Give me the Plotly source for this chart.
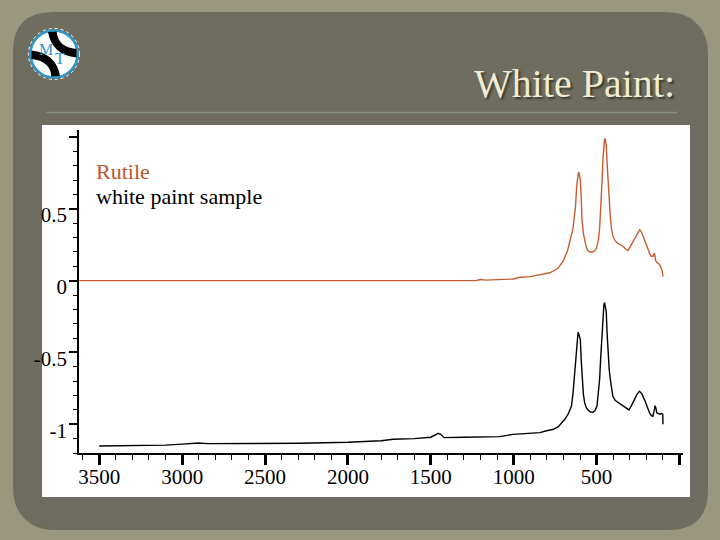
import plotly.graph_objects as go

# ---------------- data ----------------
wn_rutile = [3620, 1880, 1840, 1800, 1230, 1200, 1170, 1000, 963, 900, 842, 782, 733, 700, 675,
             655, 643, 635, 627, 620, 615, 609, 604, 598, 592, 588, 580, 572, 562, 554, 540,
             524, 510, 500, 490, 482, 477, 472, 467, 462, 456, 452, 447, 442, 437, 432, 425,
             417, 410, 402, 390, 372, 355, 341, 325, 311, 296, 281, 266, 251, 240, 230, 220,
             211, 200, 191, 180, 171, 160, 153, 149, 144, 135, 126, 115, 105, 100]
abs_rutile = [0.0, 0.0, 0.004, 0.0, 0.0, 0.008, 0.004, 0.012, 0.024, 0.028, 0.04, 0.055, 0.086, 0.14, 0.21,
              0.30, 0.36, 0.44, 0.52, 0.66, 0.73, 0.757, 0.74, 0.70, 0.55, 0.42, 0.33, 0.28, 0.23, 0.21, 0.20,
              0.20, 0.21, 0.23, 0.28, 0.36, 0.45, 0.56, 0.70, 0.84, 0.95, 0.99, 0.98, 0.94, 0.82, 0.70, 0.55,
              0.44, 0.36, 0.31, 0.28, 0.26, 0.25, 0.24, 0.22, 0.21, 0.24, 0.27, 0.31, 0.34, 0.355, 0.34, 0.31,
              0.28, 0.24, 0.21, 0.19, 0.17, 0.17, 0.19, 0.18, 0.14, 0.125, 0.12, 0.10, 0.07, 0.03]

wn_sample = [3500, 3300, 3100, 3000, 2900, 2850, 2600, 2289, 2000, 1800, 1727, 1600, 1500, 1470, 1455,
             1440, 1420, 1300, 1200, 1083, 1005, 900, 842, 802, 780, 760, 731, 710, 693, 672,
             652, 642, 632, 625, 618, 612, 608, 598, 593, 588, 580, 572, 562, 552, 537, 522,
             510, 498, 490, 482, 476, 470, 462, 456, 452, 447, 442, 437, 432, 424, 417, 410,
             402, 387, 372, 355, 341, 320, 305, 290, 271, 256, 241, 226, 211, 196, 181, 170,
             161, 152, 147, 142, 137, 128, 120, 110, 104, 101, 100]
abs_sample = [-1.151, -1.148, -1.145, -1.138, -1.13, -1.135, -1.135, -1.132, -1.125, -1.115, -1.104, -1.1, -1.09, -1.075, -1.063,
              -1.07, -1.093, -1.09, -1.09, -1.086, -1.07, -1.063, -1.058, -1.045, -1.04, -1.035, -1.017, -0.99, -0.967, -0.93,
              -0.875, -0.78, -0.64, -0.52, -0.41, -0.36, -0.37, -0.41, -0.55, -0.69, -0.79, -0.851, -0.885, -0.90, -0.915, -0.917,
              -0.905, -0.875, -0.80, -0.69, -0.55, -0.41, -0.227, -0.165, -0.153, -0.18, -0.215, -0.36, -0.504, -0.62, -0.69, -0.76,
              -0.805, -0.835, -0.847, -0.86, -0.87, -0.885, -0.90, -0.87, -0.83, -0.79, -0.77, -0.79, -0.83, -0.88, -0.92, -0.94,
              -0.944, -0.90, -0.87, -0.89, -0.92, -0.925, -0.93, -0.925, -0.93, -0.93, -1.0]

x_tickvals = [3500, 3000, 2500, 2000, 1500, 1000, 500, 0]
x_ticktext = ["3500", "3000", "2500", "2000", "1500", "1000", "500", ""]
y_tickvals = [-1, -0.5, 0, 0.5, 1]
y_ticktext = ["-1", "-0.5", "0", "0.5", ""]

title_text = "White Paint:"
label1 = "Rutile"
label2 = "white paint sample"

# ---------------- layout geometry ----------------
W, H = 720, 540
L, R, T, B = 79, 37, 130, 87
PW, PH = W - L - R, H - T - B

def px(x):
    return (x - L) / PW

def py(y):
    return 1 - (y - T) / PH

def rrect(x0, y0, x1, y1, r):
    pts = [
        f"M {px(x0 + r)} {py(y0)}",
        f"L {px(x1 - r)} {py(y0)}",
        f"Q {px(x1)} {py(y0)} {px(x1)} {py(y0 + r)}",
        f"L {px(x1)} {py(y1 - r)}",
        f"Q {px(x1)} {py(y1)} {px(x1 - r)} {py(y1)}",
        f"L {px(x0 + r)} {py(y1)}",
        f"Q {px(x0)} {py(y1)} {px(x0)} {py(y1 - r)}",
        f"L {px(x0)} {py(y0 + r)}",
        f"Q {px(x0)} {py(y0)} {px(x0 + r)} {py(y0)}",
        "Z",
    ]
    return " ".join(pts)

def pth(cmds):
    out = []
    for c in cmds:
        if isinstance(c, str):
            out.append(c)
        else:
            out.append(f"{px(c[0])} {py(c[1])}")
    return " ".join(out)

SERIF = "Liberation Serif, Times New Roman, serif"
ORANGE = "#c75d2e"
LOGO_BLUE = "#2f96cb"

fig = go.Figure()
fig.add_trace(go.Scatter(x=wn_rutile, y=abs_rutile, mode="lines",
                         line=dict(color=ORANGE, width=1.4), showlegend=False))
fig.add_trace(go.Scatter(x=wn_sample, y=abs_sample, mode="lines",
                         line=dict(color="black", width=1.4), showlegend=False))

shapes = []
# shadow + panel
shapes.append(dict(type="path", xref="paper", yref="paper", layer="below",
                   path=rrect(16, 15, 708, 530, 40), fillcolor="#5c5b4e", line=dict(width=0), opacity=0.7))
shapes.append(dict(type="path", xref="paper", yref="paper", layer="below",
                   path=rrect(13, 12, 705, 527, 40), fillcolor="#6f6d5f", line=dict(width=0)))
# white chart area
shapes.append(dict(type="rect", xref="paper", yref="paper", layer="below",
                   x0=px(42), x1=px(690), y0=py(497), y1=py(125), fillcolor="white", line=dict(width=0)))
# title rule
shapes.append(dict(type="line", xref="paper", yref="paper", layer="below",
                   x0=px(46), x1=px(677), y0=py(112.5), y1=py(112.5), line=dict(color="#84917a", width=1.5)))
# logo
cx, cy, rr = 54, 54, 23.5
shapes.append(dict(type="circle", xref="paper", yref="paper", layer="below",
                   x0=px(cx - rr - 2), x1=px(cx + rr + 2), y0=py(cy + rr + 2), y1=py(cy - rr - 2),
                   fillcolor="rgba(0,0,0,0)", line=dict(color="white", width=1, dash="dot")))
shapes.append(dict(type="circle", xref="paper", yref="paper", layer="below",
                   x0=px(cx - rr), x1=px(cx + rr), y0=py(cy + rr), y1=py(cy - rr),
                   fillcolor="white", line=dict(color=LOGO_BLUE, width=2.5)))
band = [(56.7, 31.5), (57.5, 47), (76.5, 49), (76.5, 57.5), (52, 55), (48, 32)]
for pts in (band, [(2 * cx - x, 2 * cy - y) for x, y in band]):
    shapes.append(dict(type="path", xref="paper", yref="paper", layer="below",
                       path=pth(["M", pts[0], "Q", pts[1], pts[2], "L", pts[3], "Q", pts[4], pts[5], "Z"]),
                       fillcolor="black", line=dict(width=0)))

annotations = [
    dict(text=title_text, xref="paper", yref="paper", x=px(677), y=py(84), xanchor="right", yanchor="middle",
         showarrow=False, font=dict(family=SERIF, size=40, color="#efecd3", shadow="2px 2px 2px #3a392f")),
    dict(text=label1, xref="paper", yref="paper", x=px(94), y=py(171), xanchor="left", yanchor="middle",
         showarrow=False, font=dict(family=SERIF, size=22, color="#c0542c")),
    dict(text=label2, xref="paper", yref="paper", x=px(94), y=py(196), xanchor="left", yanchor="middle",
         showarrow=False, font=dict(family=SERIF, size=22, color="black")),
    dict(text="M", xref="paper", yref="paper", x=px(46), y=py(49), xanchor="center", yanchor="middle",
         showarrow=False, font=dict(family=SERIF, size=16, color=LOGO_BLUE)),
    dict(text="T", xref="paper", yref="paper", x=px(60), y=py(59), xanchor="center", yanchor="middle",
         showarrow=False, font=dict(family=SERIF, size=16, color=LOGO_BLUE)),
]

fig.update_layout(
    width=W, height=H,
    margin=dict(l=L, r=R, t=T, b=B, pad=0),
    paper_bgcolor="#9a977f",
    plot_bgcolor="rgba(0,0,0,0)",
    shapes=shapes,
    annotations=annotations,
    showlegend=False,
    xaxis=dict(range=[3622, -21], showgrid=False, zeroline=False, showline=True,
               linecolor="black", linewidth=1.5, ticks="outside", ticklen=10, tickwidth=3,
               tickcolor="black", tickmode="array", tickvals=x_tickvals, ticktext=x_ticktext,
               tickfont=dict(family=SERIF, size=21, color="black"), ticklabelstandoff=-6,
               minor=dict(tickmode="linear", tick0=0, dtick=100, ticks="outside", ticklen=5,
                          tickwidth=1, tickcolor="black")),
    yaxis=dict(range=[-1.2, 1.049], showgrid=False, zeroline=False, showline=True,
               linecolor="black", linewidth=1.5, ticks="outside", ticklen=8, tickwidth=2,
               tickcolor="black", tickmode="array", tickvals=y_tickvals, ticktext=y_ticktext,
               tickfont=dict(family=SERIF, size=21, color="black"), ticklabelshift=6,
               ticklabelstandoff=-2,
               minor=dict(tickmode="linear", tick0=0, dtick=0.1, ticks="outside", ticklen=4,
                          tickwidth=1, tickcolor="black")),
)

fig.write_html("out.html", config={"displayModeBar": False},
               post_script="document.body.style.margin='0px';")
